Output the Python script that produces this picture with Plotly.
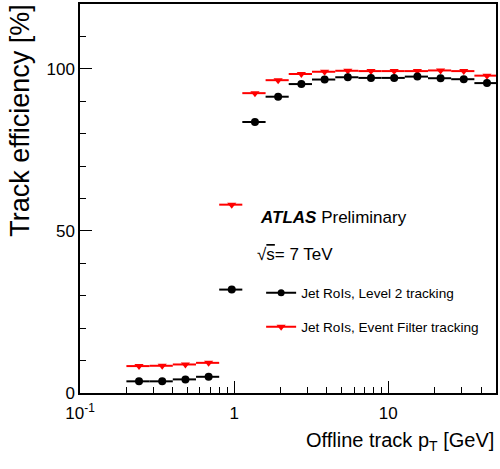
import plotly.graph_objects as go

# ---- data ----
bin_edges = [0.2, 0.283, 0.4, 0.566, 0.8, 1.13, 1.6, 2.26, 3.2, 4.53, 6.4,
             9.05, 12.8, 18.1, 25.6, 36.2, 51.2]
eff_l2 = [3.6, 3.6, 4.2, 5.0, 31.9, 83.6, 91.4, 95.3, 96.7, 97.4,
          97.2, 97.2, 97.6, 97.1, 96.8, 95.6]
eff_ef = [8.3, 8.4, 8.8, 9.3, 58.1, 92.5, 96.5, 98.4, 99.1, 99.4,
          99.3, 99.3, 99.3, 99.5, 99.3, 97.9]
x_major = [0.1, 1, 10]
x_major_text = ["10<sup>-1</sup>", "1", "10"]
x_minor = [0.2, 0.3, 0.4, 0.5, 0.6, 0.7, 0.8, 0.9,
           2, 3, 4, 5, 6, 7, 8, 9, 20, 30, 40]
y_major = [0, 50, 100]
y_minor = [10, 20, 30, 40, 60, 70, 80, 90, 110]
name_l2 = "Jet RoIs, Level 2 tracking"
name_ef = "Jet RoIs, Event Filter tracking"

lo = bin_edges[:-1]
hi = bin_edges[1:]
xc = [(a + b) / 2 for a, b in zip(lo, hi)]
ep = [b - c for b, c in zip(hi, xc)]
em = [c - a for a, c in zip(lo, xc)]

FONT = "Liberation Sans, Arial, Helvetica, sans-serif"

fig = go.Figure()
fig.add_trace(go.Scatter(
    x=xc, y=eff_ef, mode="markers", showlegend=False,
    marker=dict(symbol="triangle-down", size=8, color="#ff0000"),
    error_x=dict(type="data", symmetric=False, array=ep, arrayminus=em,
                 color="#ff0000", thickness=2, width=0),
))
fig.add_trace(go.Scatter(
    x=xc, y=eff_l2, mode="markers", showlegend=False,
    marker=dict(symbol="circle", size=8, color="#000000"),
    error_x=dict(type="data", symmetric=False, array=ep, arrayminus=em,
                 color="#000000", thickness=2, width=0),
))
# legend entries
fig.add_trace(go.Scatter(
    x=[None], y=[None], mode="lines+markers", name=name_l2, legend="legend",
    line=dict(color="#000000", width=2),
    marker=dict(symbol="circle", size=7, color="#000000"),
))
fig.add_trace(go.Scatter(
    x=[None], y=[None], mode="lines+markers", name=name_ef, legend="legend2",
    line=dict(color="#ff0000", width=2),
    marker=dict(symbol="triangle-down", size=8, color="#ff0000"),
))

axis_common = dict(
    showgrid=False, zeroline=False, showline=True, linecolor="#000000",
    linewidth=1.5, mirror=True, ticks="inside", ticklen=12, tickwidth=1,
    tickcolor="#000000", tickfont=dict(family=FONT, size=17, color="#000000"),
)
fig.update_xaxes(
    type="log", range=[-1, 1.699], tickmode="array", tickvals=x_major,
    ticktext=x_major_text, ticklabelstandoff=4,
    minor=dict(tickmode="array", tickvals=x_minor, ticks="inside",
               ticklen=6, tickcolor="#000000"),
    **axis_common,
)
fig.update_yaxes(
    range=[0, 120], tickmode="array", tickvals=y_major,
    minor=dict(tickmode="array", tickvals=y_minor, ticks="inside",
               ticklen=6, tickcolor="#000000"),
    **axis_common,
)

def px(xp):
    return (xp - 80) / 418.0

def py(yp):
    return (393 - yp) / 389.0

fig.add_annotation(
    text="Offline track p<sub>T</sub> [GeV]", xref="paper", yref="paper",
    x=1.0, y=py(427), xanchor="right", yanchor="top", showarrow=False,
    font=dict(family=FONT, size=20, color="#000000"),
)
fig.add_annotation(
    text="Track efficiency [%]", xref="paper", yref="paper",
    x=px(20), y=py(2), xanchor="center", yanchor="top", textangle=-90,
    showarrow=False, font=dict(family=FONT, size=27, color="#000000"),
)
fig.add_annotation(
    text="<b><i>ATLAS</i></b> Preliminary", xref="paper", yref="paper",
    x=px(259), y=py(217), xanchor="left", yanchor="middle", showarrow=False,
    font=dict(family=FONT, size=17, color="#000000"),
)
fig.add_annotation(
    text="√<span style='text-decoration:overline'>s</span>= 7 TeV",
    xref="paper", yref="paper",
    x=px(256), y=py(254), xanchor="left", yanchor="middle", showarrow=False,
    font=dict(family=FONT, size=17, color="#000000"),
)

legend_common = dict(
    xanchor="left", yanchor="middle", bgcolor="rgba(0,0,0,0)",
    borderwidth=0, font=dict(family=FONT, size=13.6, color="#000000"),
    itemwidth=30,
)
fig.update_layout(
    width=500, height=469,
    margin=dict(l=80, r=2, t=4, b=76),
    paper_bgcolor="#ffffff", plot_bgcolor="#ffffff",
    legend=dict(x=px(262), y=py(293), **legend_common),
    legend2=dict(x=px(262), y=py(327), **legend_common),
)

fig.write_html("out.html", config={"displayModeBar": False},
               post_script="document.body.style.margin='0px';")
